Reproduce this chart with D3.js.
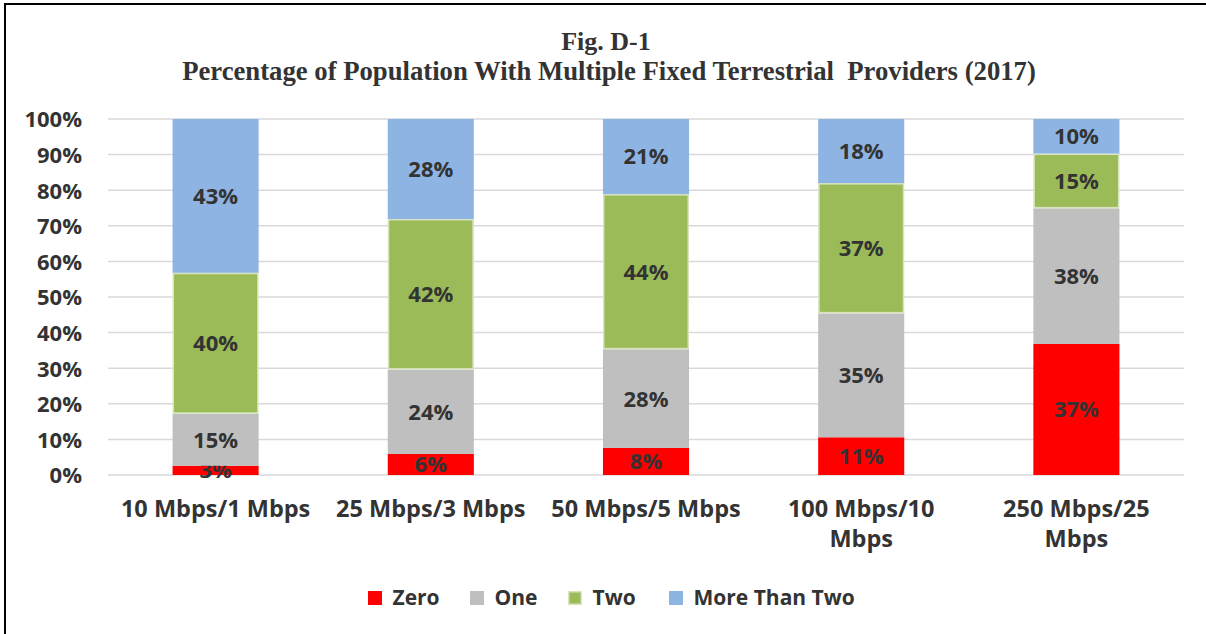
<!DOCTYPE html>
<html>
<head>
<meta charset="utf-8">
<script src="https://cdn.jsdelivr.net/npm/d3@7"></script>
<style>
  html, body { margin: 0; padding: 0; background: #fff; }
  svg { display: block; }
</style>
</head>
<body>
<svg id="chart" width="1206" height="634"></svg>
<script>
// ---- data ----
const titleLines = ["Fig. D-1", "Percentage of Population With Multiple Fixed Terrestrial  Providers (2017)"];
const categories = ["10 Mbps/1 Mbps", "25 Mbps/3 Mbps", "50 Mbps/5 Mbps", "100 Mbps/10 Mbps", "250 Mbps/25 Mbps"];
const seriesNames = ["Zero", "One", "Two", "More Than Two"];
const zeroValues = [2.6, 5.9, 7.6, 10.6, 36.8];
const oneValues  = [14.6, 23.7, 27.7, 34.8, 38.1];
const twoValues  = [39.6, 42.3, 43.6, 36.6, 15.4];
const moreValues = [43.2, 28.1, 21.1, 18.0, 9.7];
const yTicks = [0, 10, 20, 30, 40, 50, 60, 70, 80, 90, 100];
const seriesColors = ["#ff0000", "#bfbfbf", "#9bbb59", "#8eb4e3"];
const seriesStrokes = ["none", "none", "#d7e4bd", "none"];

// ---- layout ----
const svg = d3.select("#chart");
const W = 1206, H = 634;
const plot = { left: 108, right: 1184, top: 119, bottom: 475 };
const textColor = "#333333";
const sansFont = "'Open Sans', sans-serif";

// frame
svg.append("rect")
  .attr("x", 5).attr("y", 4)
  .attr("width", W + 20).attr("height", H + 20)
  .attr("fill", "#fff").attr("stroke", "#000").attr("stroke-width", 2);

// title
const titleSizes = [26, 26.7];
svg.append("g").selectAll("text").data(titleLines).join("text")
  .attr("x", (d, i) => i === 0 ? 606 : 609)
  .attr("y", (d, i) => 50 + i * 30)
  .attr("text-anchor", "middle")
  .attr("font-family", "'Liberation Serif', 'Times New Roman', serif")
  .attr("font-weight", "bold")
  .attr("font-size", (d, i) => titleSizes[i])
  .attr("fill", textColor)
  .style("white-space", "pre")
  .text(d => d);

// scales
const x = d3.scaleBand().domain(categories).range([plot.left, plot.right]).paddingInner(0.6).paddingOuter(0.3);
const y = d3.scaleLinear().domain([0, 100]).range([plot.bottom, plot.top]);

// gridlines
svg.append("g").selectAll("line").data(yTicks).join("line")
  .attr("x1", plot.left).attr("x2", plot.right)
  .attr("y1", d => y(d)).attr("y2", d => y(d))
  .attr("stroke", "#d9d9d9").attr("stroke-width", 1.5);

// y axis labels via d3 axis
const yAxis = svg.append("g")
  .attr("transform", `translate(${plot.left - 26},0)`)
  .call(d3.axisLeft(y).tickValues(yTicks).tickFormat(d => d + "%").tickSize(0).tickPadding(0));
yAxis.select(".domain").remove();
yAxis.selectAll("text")
  .attr("font-family", sansFont).attr("font-weight", "bold")
  .attr("font-size", 22).attr("fill", textColor)
  .attr("dy", "0.36em");

// stacked data
const rows = categories.map((c, i) => ({
  cat: c,
  "Zero": zeroValues[i],
  "One": oneValues[i],
  "Two": twoValues[i],
  "More Than Two": moreValues[i]
}));
const stacked = d3.stack().keys(seriesNames)(rows);

const layers = svg.append("g").selectAll("g").data(stacked).join("g")
  .attr("fill", (d, i) => seriesColors[i]);

layers.each(function(layer, li) {
  const g = d3.select(this);
  const sw = seriesStrokes[li] === "none" ? 0 : 1.5;
  g.selectAll("rect").data(layer).join("rect")
    .attr("x", d => x(d.data.cat) + sw / 2)
    .attr("width", x.bandwidth() - sw)
    .attr("y", d => y(d[1]) + sw / 2)
    .attr("height", d => Math.max(0, y(d[0]) - y(d[1]) - sw))
    .attr("stroke", seriesStrokes[li])
    .attr("stroke-width", sw);
});

// data labels
layers.each(function(layer) {
  d3.select(this).selectAll("text").data(layer).join("text")
    .attr("x", d => x(d.data.cat) + x.bandwidth() / 2)
    .attr("y", d => (y(d[0]) + y(d[1])) / 2)
    .attr("dy", "0.36em")
    .attr("text-anchor", "middle")
    .attr("font-family", sansFont).attr("font-weight", "bold")
    .attr("font-size", 22).attr("fill", textColor)
    .text(d => Math.round(d[1] - d[0]) + "%");
});

// x axis labels
const xAxis = svg.append("g")
  .attr("transform", `translate(0,${plot.bottom})`)
  .call(d3.axisBottom(x).tickSize(0).tickPadding(0));
xAxis.select(".domain").remove();
xAxis.selectAll("text")
  .attr("font-family", sansFont).attr("font-weight", "bold")
  .attr("font-size", 23.5).attr("fill", textColor)
  .attr("y", 42).attr("dy", 0)
  .each(function(d) {
    const t = d3.select(this);
    const words = d.split(" ");
    const maxW = x.step() * 0.92;
    t.text(null);
    let line = [];
    let tspan = t.append("tspan").attr("x", 0).attr("dy", 0);
    words.forEach(w => {
      line.push(w);
      tspan.text(line.join(" "));
      if (tspan.node().getComputedTextLength() > maxW && line.length > 1) {
        line.pop();
        tspan.text(line.join(" "));
        line = [w];
        tspan = t.append("tspan").attr("x", 0).attr("dy", 30).text(w);
      }
    });
  });

// legend
const legendItems = [
  { name: "Zero", x: 368 },
  { name: "One", x: 470 },
  { name: "Two", x: 568 },
  { name: "More Than Two", x: 669 }
];
const legend = svg.append("g");
legendItems.forEach((it, i) => {
  const hasStroke = seriesStrokes[i] !== "none";
  legend.append("rect")
    .attr("x", it.x + (hasStroke ? 0.75 : 0))
    .attr("y", 591 + (hasStroke ? 0.75 : 0))
    .attr("width", hasStroke ? 12.5 : 14)
    .attr("height", hasStroke ? 12.5 : 14)
    .attr("fill", seriesColors[i])
    .attr("stroke", seriesStrokes[i])
    .attr("stroke-width", hasStroke ? 1.5 : 0);
  legend.append("text")
    .attr("x", it.x + 24.5)
    .attr("y", 605)
    .attr("font-family", sansFont).attr("font-weight", "bold")
    .attr("font-size", 21).attr("fill", textColor)
    .text(seriesNames[i]);
});
</script>
</body>
</html>
